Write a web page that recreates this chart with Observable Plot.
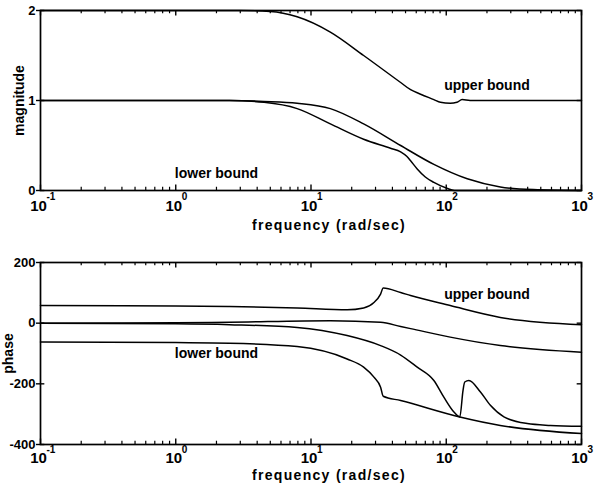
<!DOCTYPE html>
<html>
<head>
<meta charset="utf-8">
<script src="https://cdn.jsdelivr.net/npm/d3@7"></script>
<script src="https://cdn.jsdelivr.net/npm/@observablehq/plot@0.6"></script>
<style>
  body { margin: 0; background: #fff; }
  #chart { width: 605px; height: 492px; overflow: hidden; background: #fff; }
  #chart svg { display: block; }
</style>
</head>
<body>
<div id="chart"></div>
<script>
// ---- axis / label data ----
const decadeTicks = [0.1, 1, 10, 100, 1000];
const decadeExponents = ["-1", "0", "1", "2", "3"];
const minorMultipliers = [2, 3, 4, 5, 6, 7, 8, 9];
const xLabel = "frequency (rad/sec)";
const magLabel = "magnitude";
const phaseLabel = "phase";
const magTicks = [0, 1, 2];
const phaseTicks = [-400, -200, 0, 200];
const noteText = ["lower bound", "upper bound"];
const magNoteF = [2, 200];
const magNoteV = [0.19, 1.17];
const phaseNoteF = [2, 200];
const phaseNoteV = [-101, 93];

// ---- magnitude series ----
const magUpperF = [0.1, 1, 3, 5, 7.9, 13.9, 24.5, 46, 54.5, 64.6, 81, 90.6, 107, 120, 131, 150, 300, 1000];
const magUpperV = [2, 2, 2, 1.99, 1.93, 1.76, 1.50, 1.20, 1.12, 1.07, 1.01, 0.98, 0.97, 0.98, 1.01, 1.0, 1.0, 1.0];
const magMidF = [0.1, 1, 2.5, 4.5, 7.9, 13.9, 24.5, 46, 81, 143, 251, 440, 1000];
const magMidV = [1, 1, 1, 0.99, 0.97, 0.91, 0.74, 0.50, 0.29, 0.13, 0.04, 0.01, 0];
const magLowF = [0.1, 1, 2.5, 4.5, 7.9, 13.9, 24.5, 38.7, 46, 51, 54.5, 61, 70, 81, 101, 115, 1000];
const magLowV = [1, 1, 1, 0.98, 0.91, 0.74, 0.57, 0.47, 0.43, 0.38, 0.33, 0.24, 0.15, 0.09, 0.025, 0, 0];

// ---- phase series ----
const phUpperF = [0.1, 1, 2.5, 7.9, 18.5, 24.5, 29.2, 32.7, 34.2, 46, 54.5, 107, 251, 1000];
const phUpperV = [58, 57, 55, 50, 44, 50, 68, 96, 116, 101, 91, 58, 19, -5];
const phNomF = [0.1, 1, 2.5, 13.9, 32.7, 46, 54.5, 107, 251, 1000];
const phNomV = [0, 1, 3, 8, 3, -11, -18, -46, -74, -96];
const phMidF = [0.1, 1, 2.5, 7.9, 18.5, 32.7, 46, 61, 81, 96, 114, 126, 133, 137, 147, 179, 212, 267, 397, 589, 1000];
const phMidV = [0, -2, -5, -14, -41, -74, -105, -145, -189, -244, -293, -309, -222, -194, -189, -227, -271, -309, -331, -337, -340];
const phLowF = [0.1, 1, 2.5, 7.9, 18.5, 24.5, 29.2, 32.7, 34.2, 46, 126, 251, 1000];
const phLowV = [-62, -64, -66, -77, -118, -145, -178, -211, -241, -255, -309, -337, -364];

// ---- build tables ----
function series(name, F, V) { return F.map((f, i) => ({s: name, f, v: V[i]})); }
const magRows = [
  ...series("upper", magUpperF, magUpperV),
  ...series("mid", magMidF, magMidV),
  ...series("low", magLowF, magLowV)
];
const phaseRows = [
  ...series("upper", phUpperF, phUpperV),
  ...series("nom", phNomF, phNomV),
  ...series("mid", phMidF, phMidV),
  ...series("low", phLowF, phLowV)
];
const minorTicks = decadeTicks.slice(0, -1).flatMap(d => minorMultipliers.map(m => d * m));
const notes = (F, V) => F.map((f, i) => ({f, v: V[i], t: noteText[i]}));

const FONT = "'Liberation Sans', Arial, Helvetica, sans-serif";

function panel({rows, yDomain, yTicks, yLabel, labelDx, noteRows, height, marginTop, marginBottom, tenDy, expDy, xLabelDy}) {
  const span = yDomain[1] - yDomain[0];
  const xMin = 0.1, xMax = 1000;
  const yTickFactor = Math.pow(10, 0.032);
  const svg = Plot.plot({
    width: 605,
    height,
    marginLeft: 40,
    marginRight: 24,
    marginTop,
    marginBottom,
    x: {type: "log", domain: [xMin, xMax], axis: null},
    y: {domain: yDomain, axis: null},
    style: {fontFamily: FONT, color: "black", background: "white", overflow: "visible"},
    marks: [
      // minor ticks (inward) bottom & top
      Plot.ruleX(minorTicks, {x: d => d, y1: yDomain[0], y2: yDomain[0] + span * 0.018, stroke: "black", strokeWidth: 1.2}),
      Plot.ruleX(minorTicks, {x: d => d, y1: yDomain[1], y2: yDomain[1] - span * 0.018, stroke: "black", strokeWidth: 1.2}),
      Plot.ruleX(decadeTicks, {x: d => d, y1: yDomain[0], y2: yDomain[0] + span * 0.03, stroke: "black", strokeWidth: 1.4}),
      Plot.ruleX(decadeTicks, {x: d => d, y1: yDomain[1], y2: yDomain[1] - span * 0.03, stroke: "black", strokeWidth: 1.4}),
      // y ticks inward on both sides
      Plot.ruleY(yTicks, {y: d => d, x1: xMin, x2: xMin * yTickFactor, stroke: "black", strokeWidth: 1.4}),
      Plot.ruleY(yTicks, {y: d => d, x1: xMax, x2: xMax / yTickFactor, stroke: "black", strokeWidth: 1.4}),
      Plot.axisY(yTicks, {tickSize: 4, tickPadding: 1, fontSize: 13, fontWeight: "bold", label: null, strokeWidth: 1.4, tickFormat: d => String(d)}),
      // data curves
      Plot.line(rows, {x: "f", y: "v", z: "s", stroke: "black", strokeWidth: 1.5, curve: "monotone-x"}),
      Plot.frame({stroke: "black", strokeWidth: 1.7}),
      // x tick labels: 10 with superscript exponent
      Plot.text(decadeTicks, {x: d => d, frameAnchor: "bottom", dy: tenDy, dx: -2, text: () => "10", fontSize: 15, fontWeight: "bold"}),
      Plot.text(decadeTicks, {x: d => d, frameAnchor: "bottom", dy: expDy, dx: 6, text: (d, i) => decadeExponents[i], textAnchor: "start", fontSize: 10, fontWeight: "bold"}),
      // axis labels
      Plot.text([xLabel], {frameAnchor: "bottom", dy: xLabelDy, dx: 18, text: d => d, fontSize: 14, fontWeight: "bold"}),
      Plot.text([yLabel], {frameAnchor: "left", dx: labelDx, rotate: -90, textAnchor: "middle", text: d => d, fontSize: 14, fontWeight: "bold"}),
      // annotations
      Plot.text(noteRows, {x: "f", y: "v", text: "t", fontSize: 14, fontWeight: "bold"})
    ]
  });
  d3.select(svg).selectAll("text").filter(function() { return this.textContent === xLabel; })
    .attr("letter-spacing", "1.3px");
  return svg;
}

const chart = document.getElementById("chart");
chart.append(panel({
  rows: magRows, yDomain: [0, 2], yTicks: magTicks, yLabel: magLabel, labelDx: -21,
  noteRows: notes(magNoteF, magNoteV), height: 244, marginTop: 10, marginBottom: 54,
  tenDy: 20, expDy: 9, xLabelDy: 39
}));
chart.append(panel({
  rows: phaseRows, yDomain: [-400, 200], yTicks: phaseTicks, yLabel: phaseLabel, labelDx: -32,
  noteRows: notes(phaseNoteF, phaseNoteV), height: 248, marginTop: 18, marginBottom: 48,
  tenDy: 18.5, expDy: 8, xLabelDy: 35
}));
</script>
</body>
</html>
